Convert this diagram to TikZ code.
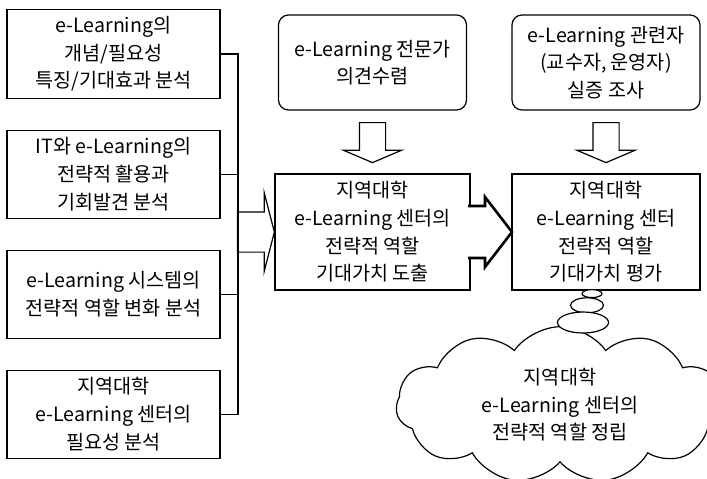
\documentclass[tikz,border=0pt]{standalone}
\usepackage{fontspec}
\setmainfont{Noto Sans CJK KR}
\usetikzlibrary{shapes.geometric, shapes.symbols, shapes.arrows, positioning}
\tikzstyle{analysis} = [rectangle, minimum width=106.5pt, minimum height=44pt, align=center, draw=black, line width=0.6pt, outer sep=0pt]
\tikzstyle{survey} = [rectangle, rounded corners=5pt, minimum width=94pt, minimum height=47.5pt, align=center, draw=black, line width=0.6pt, outer sep=0pt]
\tikzstyle{stage} = [rectangle, minimum height=58pt, align=center, draw=black, line width=1.3pt, fill=white, outer sep=0pt]
\tikzstyle{down_arrow} = [single arrow, draw=black, line width=0.6pt, shape border rotate=270, inner sep=6.25pt, single arrow head extend=8pt, single arrow tip angle=134, minimum height=20pt, anchor=tail]
\tikzstyle{feed_arrow} = [single arrow, draw=black, line width=0.6pt, inner xsep=0pt, inner ysep=9.75pt, single arrow head extend=9.5pt, single arrow tip angle=151, minimum height=18.5pt, anchor=tip]
\tikzstyle{block_arrow} = [draw=black, line width=1.3pt, fill=white]
\tikzstyle{link} = [draw=black, line width=0.6pt]
\tikzstyle{bubble} = [ellipse, draw=black, line width=0.6pt, fill=white, inner sep=0pt]
\tikzstyle{vision} = [cloud, cloud puffs=11, cloud puff arc=110, aspect=2.2, minimum width=164pt, minimum height=75pt, align=center, draw=black, line width=0.6pt, fill=white]

\begin{document}
\begin{tikzpicture}[font=\fontsize{9.8}{13.8}\selectfont]
        \useasboundingbox (0,0) rectangle (353.5pt,-239pt);
        \node (concept) [analysis] at (56.75pt,-27pt) {e-Learning의\\개념/필요성\\특징/기대효과 분석};
        \node (it_usage) [analysis, below=16pt of concept] {IT와 e-Learning의\\전략적 활용과\\기회발견 분석};
        \node (system_role) [analysis, below=16pt of it_usage] {e-Learning 시스템의\\전략적 역할 변화 분석};
        \node (center_need) [analysis, below=16pt of system_role] {지역대학\\e-Learning 센터의\\필요성 분석};

        \node (derive) [stage, minimum width=97.5pt] at (186.25pt,-116pt) {지역대학\\e-Learning 센터의\\전략적 역할\\기대가치 도출};
        \node (evaluate) [stage, minimum width=94pt, right=21pt of derive] {지역대학\\e-Learning 센터\\전략적 역할\\기대가치 평가};
        \node (expert) [survey, above=32pt of derive] {e-Learning 전문가\\의견수렴};
        \node (stakeholder) [survey, above=32pt of evaluate] {e-Learning 관련자\\(교수자, 운영자)\\실증 조사};

        \node (expert_arrow) [down_arrow] at ([yshift=-6pt]expert.south) {};
        \node (stakeholder_arrow) [down_arrow] at ([yshift=-6pt]stakeholder.south) {};

        \coordinate (bus) at ([xshift=9pt]concept.east);
        \draw [link] (concept.east) -- (bus) -- (bus |- center_need.east) -- (center_need.east);
        \draw [link] (it_usage.east) -- (it_usage.east -| bus);
        \draw [link] (system_role.east) -- (system_role.east -| bus);
        \node (feed) [feed_arrow] at (derive.west) {};

        \draw [block_arrow] ([xshift=-1pt, yshift=13pt]derive.east) -- ([xshift=7.5pt, yshift=13pt]derive.east) -- ([xshift=7.5pt, yshift=17.5pt]derive.east) -- (evaluate.west) -- ([xshift=7.5pt, yshift=-17.5pt]derive.east) -- ([xshift=7.5pt, yshift=-13pt]derive.east) -- ([xshift=-1pt, yshift=-13pt]derive.east);

        \node (vision) [vision] at (280pt,-202.5pt) {지역대학\\e-Learning 센터의\\전략적 역할 정립};
        \node (bubble_a) [bubble, minimum width=10pt, minimum height=4pt, below=-0.5pt of evaluate, xshift=-7pt] {};
        \node (bubble_b) [bubble, minimum width=16.5pt, minimum height=7.5pt, below=-0.5pt of bubble_a, xshift=-2.5pt] {};
        \node (bubble_c) [bubble, minimum width=25.5pt, minimum height=10.5pt, below=-1pt of bubble_b, xshift=-2pt] {};
    \end{tikzpicture}
\end{document}
